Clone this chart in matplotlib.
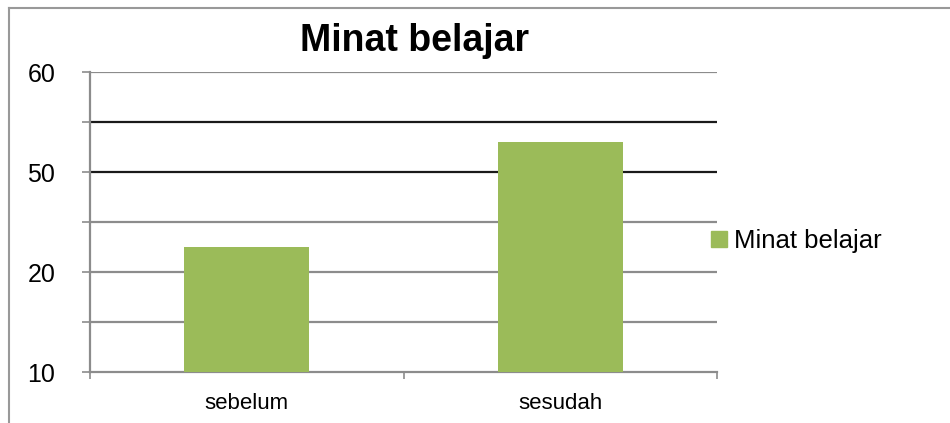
"""Minat belajar bar chart (sebelum vs sesudah)."""
import matplotlib
matplotlib.use("Agg")
import matplotlib.pyplot as plt
from matplotlib.lines import Line2D
from matplotlib.patches import Patch

categories = ["sebelum", "sesudah"]
values = [25, 46]
series_name = "Minat belajar"
y_ticks = [0, 10, 20, 30, 40, 50, 60]
y_tick_labels = ["10", "", "20", "", "50", "", "60"]
dark_grid = [40, 50]

BAR = "#9BBB59"
GRID = "#8c8c8c"

plt.rcParams["font.family"] = ["Liberation Sans", "DejaVu Sans"]

fig = plt.figure(figsize=(9.5, 4.23), dpi=100)
W, H = 950, 423
ax = fig.add_axes([90 / W, 1 - 372 / H, (717 - 90) / W, (372 - 72) / H])

x = range(len(categories))
ax.bar(x, values, width=0.4, color=BAR, zorder=3)
ax.set_xlim(-0.5, len(categories) - 0.5)
ax.set_ylim(0, 60)

# gridlines
for v in y_ticks[1:]:
    c = "#1a1a1a" if v in dark_grid else GRID
    ax.axhline(v, color=c, lw=1.6, zorder=1)

ax.set_yticks(y_ticks)
ax.set_yticklabels(y_tick_labels, fontsize=18)
ax.tick_params(axis="y", length=6, width=1.2, color=GRID, pad=19)

ax.set_xticks(list(x))
ax.set_xticklabels(categories, fontsize=16)
ax.set_xticks([-0.5, 0.5, 1.5], minor=True)
ax.tick_params(axis="x", which="major", length=0, pad=15)
ax.tick_params(axis="x", which="minor", length=5, width=1.2, color=GRID)

for s in ["top", "right"]:
    ax.spines[s].set_visible(False)
for s in ["left", "bottom"]:
    ax.spines[s].set_color(GRID)
    ax.spines[s].set_linewidth(1.6)

fig.text(415 / W, 1 - 41 / H, series_name, fontsize=27, fontweight="bold",
         ha="center", va="center")

fig.legend(handles=[Patch(color=BAR, label=series_name)], loc="center left",
           bbox_to_anchor=(688 / W, 1 - 241 / H), frameon=False, fontsize=18.5,
           handlelength=0.6, handleheight=0.6, handletextpad=0.3)

# outer frame (top and left edges only)
fig.add_artist(Line2D([9 / W, 1], [1 - 8 / H, 1 - 8 / H], color="#999999", lw=1.5,
                      transform=fig.transFigure))
fig.add_artist(Line2D([9 / W, 9 / W], [0, 1 - 8 / H], color="#999999", lw=1.5,
                      transform=fig.transFigure))

fig.savefig("out.png", dpi=100)
